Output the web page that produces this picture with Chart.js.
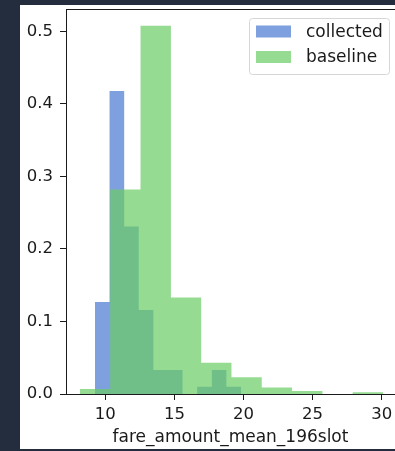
<!DOCTYPE html>
<html>
<head>
<meta charset="utf-8">
<script src="https://cdn.jsdelivr.net/npm/chart.js@4/dist/chart.umd.min.js"></script>
<style>
  html, body { margin: 0; padding: 0; background: #232d3e; overflow: hidden; }
  #paper { position: absolute; left: 20px; top: 5px; width: 375px; height: 444px; background: #fff; }
  #myChart { position: absolute; left: 0; top: 0; }
</style>
</head>
<body>
<div id="paper"></div>
<canvas id="myChart" width="395" height="451"></canvas>
<script>
// histogram bin edges and heights (fraction of samples)
const collectedEdges = [9.25, 10.31, 11.37, 12.42, 13.48, 14.54, 15.59, 16.65, 17.71, 18.76, 19.82];
const collectedValues = [0.127, 0.418, 0.231, 0.116, 0.033, 0.033, 0.0, 0.010, 0.033, 0.010];
const baselineEdges = [8.17, 10.36, 12.55, 14.75, 16.94, 19.13, 21.32, 23.51, 25.71, 27.90, 30.09];
const baselineValues = [0.007, 0.282, 0.508, 0.133, 0.043, 0.023, 0.009, 0.004, 0.0, 0.0023];
const xTicks = [10, 15, 20, 25, 30];
const yTicks = [0.0, 0.1, 0.2, 0.3, 0.4, 0.5];
const xLabel = 'fare_amount_mean_196slot';

const FONT = 'DejaVu Sans';
const INK = '#1a1a1a';

function stepPoints(edges, heights) {
    const pts = heights.map((h, i) => ({ x: edges[i], y: h }));
    pts.push({ x: edges[edges.length - 1], y: 0 });
    return pts;
}

const frameAndLegend = {
    id: 'frameAndLegend',
    afterDraw(chart) {
        const ctx = chart.ctx;
        const a = chart.chartArea;
        ctx.save();
        // top spine
        ctx.strokeStyle = INK;
        ctx.lineWidth = 1;
        ctx.beginPath();
        ctx.moveTo(a.left, a.top + 0.5);
        ctx.lineTo(a.right, a.top + 0.5);
        ctx.stroke();

        // legend box
        const bx = 249.5, by = 18.5, bw = 140, bh = 56;
        ctx.fillStyle = 'rgba(255,255,255,0.8)';
        ctx.strokeStyle = '#d6d6d6';
        ctx.beginPath();
        ctx.roundRect(bx, by, bw, bh, 3);
        ctx.fill();
        ctx.stroke();

        const items = chart.data.datasets;
        ctx.font = '17px "' + FONT + '"';
        ctx.textBaseline = 'middle';
        items.forEach((ds, i) => {
            const cy = 31.5 + i * 25.5;
            ctx.fillStyle = ds.backgroundColor;
            ctx.fillRect(256, cy - 6, 35, 12);
            ctx.fillStyle = INK;
            ctx.fillText(ds.label, 306, cy + 1);
        });
        ctx.restore();
    }
};

const config = {
    type: 'line',
    data: {
        datasets: [
            {
                label: 'collected',
                data: stepPoints(collectedEdges, collectedValues),
                backgroundColor: 'rgba(72, 120, 208, 0.7)',
                borderWidth: 0,
                pointRadius: 0,
                stepped: 'before',
                fill: 'origin',
                order: 2
            },
            {
                label: 'baseline',
                data: stepPoints(baselineEdges, baselineValues),
                backgroundColor: 'rgba(106, 204, 100, 0.7)',
                borderWidth: 0,
                pointRadius: 0,
                stepped: 'before',
                fill: 'origin',
                order: 1
            }
        ]
    },
    options: {
        responsive: false,
        animation: false,
        layout: { padding: { left: 0, right: 0, top: 9, bottom: 0 } },
        plugins: {
            legend: { display: false },
            tooltip: { enabled: false }
        },
        scales: {
            x: {
                type: 'linear',
                min: 7.16,
                max: 30.96,
                afterBuildTicks: (scale) => { scale.ticks = xTicks.map(v => ({ value: v })); },
                afterFit: (scale) => {
                    scale.height = 57;
                    scale.paddingLeft = 0;
                    scale.paddingRight = 0;
                },
                grid: { drawOnChartArea: false, drawTicks: true, tickLength: 6, tickColor: INK },
                border: { display: true, color: INK, width: 1 },
                ticks: { color: INK, font: { family: FONT, size: 16.5 }, padding: 5, maxRotation: 0 },
                title: { display: true, text: xLabel, color: INK, font: { family: FONT, size: 17 }, padding: { top: 0, bottom: 3 } }
            },
            y: {
                min: 0,
                max: 0.531,
                afterBuildTicks: (scale) => { scale.ticks = yTicks.map(v => ({ value: v })); },
                afterFit: (scale) => {
                    scale.width = 66;
                    scale.paddingTop = 0;
                    scale.paddingBottom = 0;
                },
                grid: { drawOnChartArea: false, drawTicks: true, tickLength: 6, tickColor: INK },
                border: { display: true, color: INK, width: 1 },
                ticks: { color: INK, font: { family: FONT, size: 16.5 }, padding: 7, callback: (v) => v.toFixed(1) }
            }
        }
    },
    plugins: [frameAndLegend]
};

new Chart(document.getElementById('myChart').getContext('2d'), config);
</script>
</body>
</html>
